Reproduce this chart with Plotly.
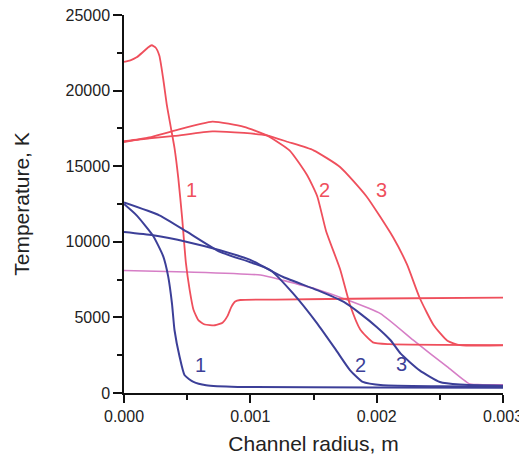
import plotly.graph_objects as go

# ---- data (x: channel radius in m, y: temperature in K) ----
red1_x = [0, 0.00005, 0.0001, 0.00015, 0.00019, 0.00022, 0.00025, 0.00028, 0.00031, 0.00034, 0.00037, 0.0004, 0.00043, 0.00046, 0.00049, 0.00052, 0.00055, 0.00059, 0.00064, 0.00072, 0.00078, 0.00082, 0.00085, 0.00088, 0.00092, 0.0012, 0.002, 0.003]
red1_y = [21900, 22000, 22200, 22550, 22850, 23000, 22850, 22300, 20800, 19000, 17600, 16200, 14200, 11600, 8600, 6800, 5500, 4800, 4530, 4480, 4650, 5100, 5700, 6050, 6150, 6180, 6250, 6310]

red2_x = [0, 0.0002, 0.0004, 0.0007, 0.00095, 0.00113, 0.00131, 0.00145, 0.00153, 0.0016, 0.00171, 0.00179, 0.00187, 0.00197, 0.0021, 0.003]
red2_y = [16600, 16900, 17350, 17950, 17600, 17040, 16050, 14400, 13000, 10700, 8200, 5800, 4200, 3350, 3230, 3170]

red3_x = [0, 0.0002, 0.0004, 0.0007, 0.00095, 0.00113, 0.0013, 0.0015, 0.00171, 0.00192, 0.00213, 0.00224, 0.00234, 0.00245, 0.00256, 0.00266, 0.003]
red3_y = [16650, 16850, 17000, 17300, 17200, 17040, 16600, 16050, 14950, 13000, 10300, 8500, 6300, 4500, 3450, 3170, 3150]

blue1_x = [0, 0.0001, 0.00023, 0.00031, 0.00035, 0.00038, 0.0004, 0.00044, 0.00048, 0.00055, 0.00065, 0.0009, 0.002, 0.003]
blue1_y = [12500, 11750, 10400, 9050, 7700, 5900, 4150, 2400, 1170, 730, 510, 400, 370, 350]

blue2_x = [0, 0.00028, 0.0005, 0.00076, 0.001, 0.00116, 0.00134, 0.00153, 0.00168, 0.00179, 0.00189, 0.00205, 0.0025, 0.003]
blue2_y = [12600, 11750, 10650, 9330, 8650, 8120, 6570, 4590, 2820, 1500, 730, 510, 450, 420]

blue3_x = [0, 0.00023, 0.0005, 0.00076, 0.001, 0.00126, 0.00153, 0.00174, 0.00187, 0.002, 0.00211, 0.00219, 0.00234, 0.0025, 0.00266, 0.003]
blue3_y = [10650, 10430, 9990, 9440, 8800, 7670, 6800, 6020, 5250, 4370, 3490, 2600, 1500, 730, 560, 480]

pink_x = [0, 0.0005, 0.00108, 0.00126, 0.00153, 0.00174, 0.00203, 0.00229, 0.00256, 0.00273, 0.0028, 0.003]
pink_y = [8100, 8000, 7800, 7450, 6850, 6240, 5250, 3490, 1720, 620, 560, 540]

x_ticks = [0, 0.001, 0.002, 0.003]
x_tick_labels = ["0.000", "0.001", "0.002", "0.003"]
y_ticks = [0, 5000, 10000, 15000, 20000, 25000]
y_tick_labels = ["0", "5000", "10000", "15000", "20000", "25000"]

RED = "#ef4f5c"
BLUE = "#3c3f98"
PINK = "#d67ec6"

fig = go.Figure()
series = [
    (pink_x, pink_y, PINK, 1.6),
    (red1_x, red1_y, RED, 1.8),
    (red2_x, red2_y, RED, 1.8),
    (red3_x, red3_y, RED, 1.8),
    (blue1_x, blue1_y, BLUE, 2.0),
    (blue2_x, blue2_y, BLUE, 2.0),
    (blue3_x, blue3_y, BLUE, 2.0),
]
for xs, ys, col, w in series:
    fig.add_trace(go.Scatter(x=xs, y=ys, mode="lines",
                             line=dict(color=col, width=w, shape="spline", smoothing=0.5),
                             showlegend=False, hoverinfo="skip"))

labels = [
    ("1", 0.000536, 13400, RED), ("2", 0.00159, 13400, RED), ("3", 0.00204, 13400, RED),
    ("1", 0.000602, 1850, BLUE), ("2", 0.00187, 1850, BLUE), ("3", 0.0022, 1950, BLUE),
]
for t, lx, ly, col in labels:
    fig.add_annotation(x=lx, y=ly, text=t, showarrow=False, xref="x", yref="y",
                       font=dict(size=20, color=col, family="Liberation Sans, Arial, sans-serif"))

axis_font = dict(family="Liberation Sans, Arial, sans-serif", size=16, color="#222")
# page body has an 8px margin, so the figure is sized 8px smaller to fill the 527x455 window
fig.update_layout(
    width=519, height=447,
    margin=dict(l=116, r=24, t=7, b=62, autoexpand=False),
    paper_bgcolor="white", plot_bgcolor="white",
    font=axis_font,
    xaxis=dict(range=[0, 0.003], tickvals=x_ticks, ticktext=x_tick_labels, automargin=False,
               ticklabeloverflow="allow",
               showline=True, linecolor="#111", linewidth=1.5, showgrid=False, zeroline=False,
               ticks="outside", ticklen=8, tickwidth=1.5, tickcolor="#111",
               minor=dict(ticks="outside", ticklen=5, tickwidth=1.5, tickcolor="#111", dtick=0.0005, showgrid=False),
               title=dict(text="Channel radius, m", font=dict(size=21, color="#222"), standoff=17),
               tickfont=axis_font),
    yaxis=dict(range=[0, 25000], tickvals=y_ticks, ticktext=y_tick_labels, automargin=False,
               ticklabeloverflow="allow",
               showline=True, linecolor="#111", linewidth=1.5, showgrid=False, zeroline=False,
               ticks="outside", ticklen=9, tickwidth=1.5, tickcolor="#111",
               minor=dict(ticks="outside", ticklen=5, tickwidth=1.5, tickcolor="#111", dtick=2500, showgrid=False),
               title=dict(text="Temperature, K", font=dict(size=21, color="#222"), standoff=30),
               tickfont=axis_font),
)

fig.write_html("out.html")
